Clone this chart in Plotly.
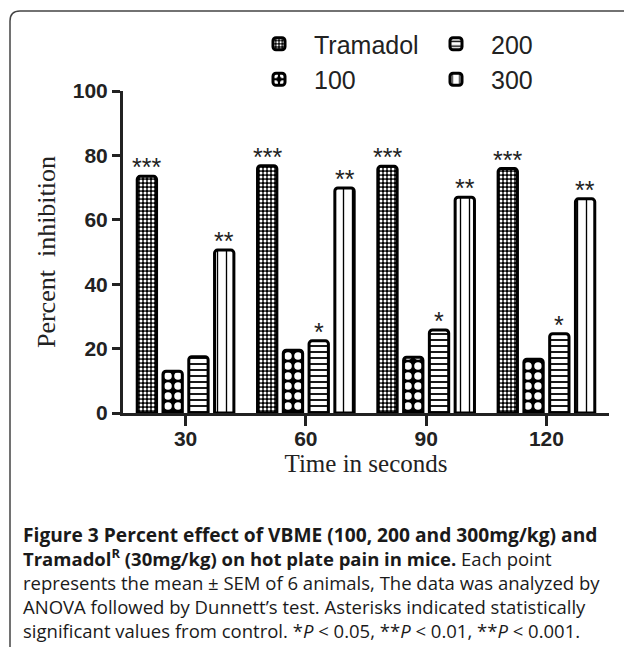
import plotly.graph_objects as go

# ---- data ----
time_labels = ["30", "60", "90", "120"]
series_names = ["Tramadol", "100", "200", "300"]
tramadol = [73.5, 76.8, 76.6, 75.9]
dose_100 = [13.0, 19.5, 17.3, 16.7]
dose_200 = [17.5, 22.4, 25.8, 24.6]
dose_300 = [50.6, 69.9, 67.0, 66.5]
stars_tramadol = ["***", "***", "***", "***"]
stars_100 = ["", "", "", ""]
stars_200 = ["", "*", "*", "*"]
stars_300 = ["**", "**", "**", "**"]
y_ticks = [0, 20, 40, 60, 80, 100]

# ---- layout geometry ----
W, H = 624, 647
ML, MR, MT, MB = 123, 15, 91, 234
PW, PH = W - ML - MR, H - MT - MB
BARGAP, GROUPGAP = 0.143, 0.25


def px_x(px):
    return (px - ML) / PW


def px_y(py):
    return (H - MB - py) / PH


values = [tramadol, dose_100, dose_200, dose_300]
stars = [stars_tramadol, stars_100, stars_200, stars_300]
patterns = [
    dict(shape=".", bgcolor="black", fgcolor="white", size=4, solidity=0.45, fillmode="replace"),
    dict(shape=".", bgcolor="black", fgcolor="white", size=10, solidity=0.45, fillmode="replace"),
    dict(shape="-", bgcolor="white", fgcolor="black", size=6, solidity=0.3, fillmode="replace"),
    dict(shape="|", bgcolor="white", fgcolor="black", size=9, solidity=0.15, fillmode="replace"),
]
legends = ["legend", "legend", "legend2", "legend2"]

xs = list(range(len(time_labels)))
fig = go.Figure()
for i, name in enumerate(series_names):
    fig.add_trace(go.Bar(
        x=xs, y=values[i], name=name,
        marker=dict(color=patterns[i]["bgcolor"], pattern=patterns[i],
                    line=dict(color="black", width=3), cornerradius=3),
        legend=legends[i],
        hoverinfo="x+y",
    ))

# significance asterisks above each bar
n = len(series_names)
slot = (1 - BARGAP) / n
annotations = []
for i in range(n):
    for j, x in enumerate(xs):
        if stars[i][j]:
            annotations.append(dict(
                x=x + (i - (n - 1) / 2) * slot, y=values[i][j],
                xref="x", yref="y", text=stars[i][j], showarrow=False,
                yanchor="middle", yshift=9,
                font=dict(family="Liberation Sans, Arial", size=25, color="#222"),
            ))

caption_lines = [
    "<span style='font-size:19.2px'><b>Figure 3 Percent effect of VBME (100, 200 and 300mg/kg) and</b></span>",
    "<b>Tramadol<sup>R</sup> (30mg/kg) on hot plate pain in mice.</b> Each point",
    "represents the mean ± SEM of 6 animals, The data was analyzed by",
    "ANOVA followed by Dunnett’s test. Asterisks indicated statistically",
    "significant values from control. *<i>P</i> &lt; 0.05, **<i>P</i> &lt; 0.01, **<i>P</i> &lt; 0.001.",
]
annotations.append(dict(
    x=px_x(21), y=px_y(582), xref="paper", yref="paper", text="<br>".join(caption_lines),
    showarrow=False, xanchor="left", yanchor="middle", align="left",
    font=dict(family="Open Sans", size=18.5, color="#1a1a1a"),
))

# rounded frame around the figure
r = 10
x0, y0, x1, y1 = 10, 11, 640, 660
frame = (f"M {px_x(x0)},{px_y(y1)} L {px_x(x0)},{px_y(y0 + r)} "
         f"Q {px_x(x0)},{px_y(y0)} {px_x(x0 + r)},{px_y(y0)} L {px_x(x1)},{px_y(y0)}")

legend_font = dict(family="Liberation Sans, Arial", size=25, color="#222")
fig.update_layout(
    width=W, height=H,
    margin=dict(l=ML, r=MR, t=MT, b=MB),
    paper_bgcolor="white", plot_bgcolor="white",
    barmode="group", bargap=BARGAP, bargroupgap=GROUPGAP,
    showlegend=True,
    legend=dict(x=px_x(244), y=px_y(21), xanchor="left", yanchor="top",
                font=legend_font, itemwidth=60, bgcolor="rgba(0,0,0,0)", tracegroupgap=0),
    legend2=dict(x=px_x(421), y=px_y(21), xanchor="left", yanchor="top",
                 font=legend_font, itemwidth=60, bgcolor="rgba(0,0,0,0)", tracegroupgap=0),
    xaxis=dict(
        range=[-0.52, len(xs) - 1 + 0.52], tickvals=xs, ticktext=time_labels,
        showline=True, linecolor="#222", linewidth=3, showgrid=False, zeroline=False,
        ticks="outside", ticklen=10, tickwidth=3, tickcolor="#222", ticklabelstandoff=-5,
        tickfont=dict(family="Liberation Sans, Arial", size=21, color="#222", weight="bold"),
        title=dict(text="Time in seconds", standoff=4,
                   font=dict(family="Liberation Serif, Times New Roman", size=25, color="#222")),
    ),
    yaxis=dict(
        range=[0, 100], tickvals=y_ticks,
        showline=True, linecolor="#222", linewidth=3, showgrid=False, zeroline=False,
        ticks="outside", ticklen=8, tickwidth=3, tickcolor="#222",
        tickfont=dict(family="Liberation Sans, Arial", size=21, color="#222", weight="bold"),
        title=dict(text="Percent  inhibition", standoff=10,
                   font=dict(family="Liberation Serif, Times New Roman", size=26, color="#222")),
    ),
    annotations=annotations,
    shapes=[dict(type="path", path=frame, xref="paper", yref="paper",
                 line=dict(color="#444", width=1.5), layer="above")],
)

fig.write_html("out.html", config={"displayModeBar": False},
               post_script="document.body.style.margin='0';")
